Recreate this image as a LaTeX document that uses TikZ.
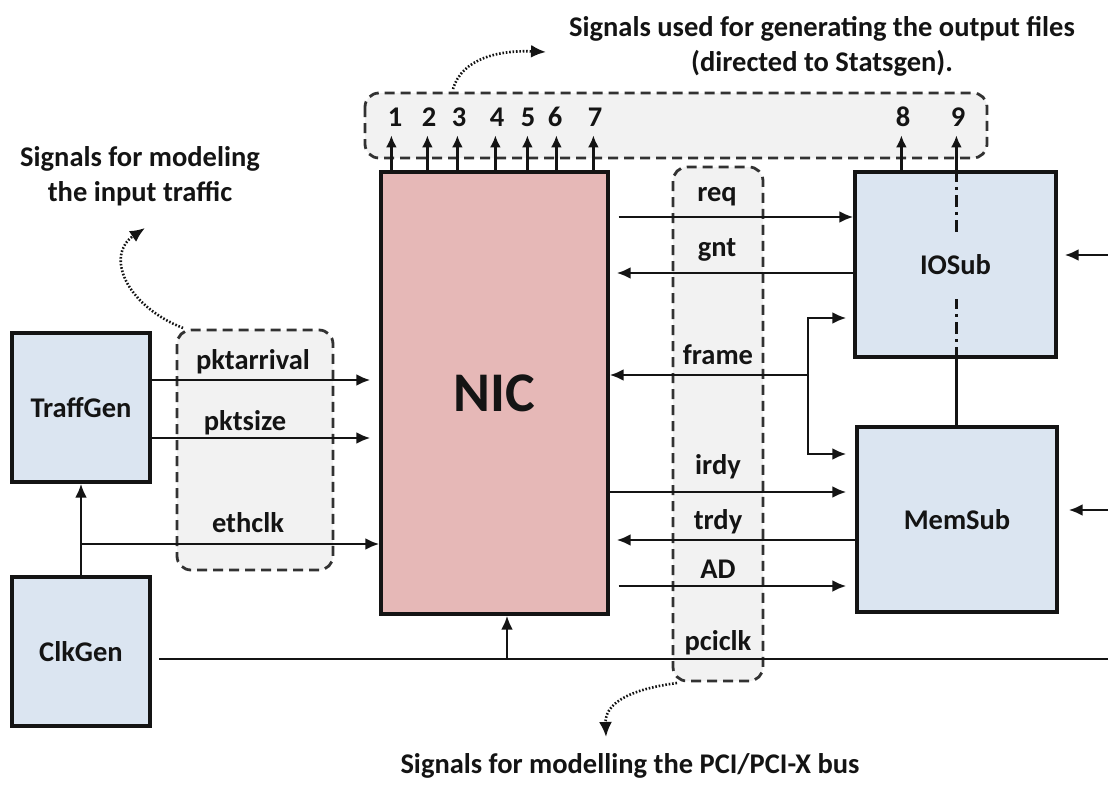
\documentclass[tikz,border=0pt]{standalone}
\usepackage{fontspec}
\setmainfont{Carlito}
\usetikzlibrary{arrows.meta,calc}
\definecolor{nicfill}{RGB}{230,184,183}
\definecolor{boxfill}{RGB}{219,229,241}
\definecolor{grpfill}{RGB}{242,242,242}
\definecolor{grpline}{RGB}{50,50,50}
\definecolor{ink}{RGB}{20,20,20}
\begin{document}
\begin{tikzpicture}[x=1pt,y=-1pt,
  every node/.style={font=\fontsize{28.5}{35}\selectfont\bfseries, text=ink},
  blk/.style={draw=ink, line width=3.2pt, fill=boxfill, inner sep=0pt},
  grp/.style={draw=grpline, fill=grpfill, line width=2.8pt, dash pattern=on 10pt off 6pt, rounded corners=14pt},
  sig/.style={draw=ink, line width=2.8pt, -{Latex[length=14pt,width=12pt]}},
  plain/.style={draw=ink, line width=2.8pt},
  note/.style={draw=ink, line width=2.6pt, dash pattern=on 1.6pt off 1.8pt, -{Latex[length=15pt,width=13pt]}},
  dashdot/.style={draw=ink, line width=2.8pt, dash pattern=on 12pt off 5pt on 3pt off 5pt}
]
\useasboundingbox (0,0) rectangle (1108,785);

% signal groups
\draw[grp] (365,93) rectangle (987,158);
\draw[grp] (177,330) rectangle (333,570);
\draw[grp] (673,167) rectangle (763,681);

% blocks
\node[blk, minimum width=138pt, minimum height=149pt] (tg) at (81,407.5) {TraffGen};
\node[blk, minimum width=138pt, minimum height=149pt] (cg) at (81,651.5) {ClkGen};
\node[blk, fill=nicfill, minimum width=227pt, minimum height=442pt, font=\fontsize{56}{60}\selectfont\bfseries] (nic) at (494.5,393) {NIC};
\node[blk, minimum width=201pt, minimum height=185pt] (io) at (955.5,264.5) {IOSub};
\node[blk, minimum width=200pt, minimum height=185pt] (mem) at (957,519.5) {MemSub};

% row coordinates
\coordinate (yPA) at (0,380);
\coordinate (yPS) at (0,438);
\coordinate (yEC) at (0,544);
\coordinate (yREQ) at (0,217);
\coordinate (yGNT) at (0,273);
\coordinate (yFR) at (0,375);
\coordinate (yIO) at (0,318);
\coordinate (yMEM) at (0,454);
\coordinate (yIR) at (0,492);
\coordinate (yTR) at (0,540);
\coordinate (yAD) at (0,586);
\coordinate (yR1) at (0,255);
\coordinate (yR2) at (0,510);

\coordinate (nicIn) at ([xshift=-9pt]nic.west);
\coordinate (nicOut) at ([xshift=9pt]nic.east);
\coordinate (nicTip) at ([xshift=7pt]nic.east);
\coordinate (ioIn) at ([xshift=-7pt]io.west);
\coordinate (memIn) at ([xshift=-9pt]mem.west);
\coordinate (ioR) at ([xshift=7pt]io.east);
\coordinate (memR) at ([xshift=10pt]mem.east);
\coordinate (rEdge) at (1108,0);

% left side signals
\draw[sig] (tg.east |- yPA) -- (nicIn |- yPA);
\draw[sig] (tg.east |- yPS) -- (nicIn |- yPS);
\draw[sig] (cg.north) -- (tg.south);
\coordinate (cj) at (81,544);
\draw[sig] (cj) -- (nic.west |- yEC);

% pciclk
\coordinate (pcs) at (159,659);
\coordinate (pce) at (1108,659);
\draw[plain] (pcs) -- (pce);
\coordinate (pcj) at (507,659);
\draw[sig] (pcj) -- (pcj |- nic.south);

% PCI bus signals
\draw[sig] (nicOut |- yREQ) -- (io.west |- yREQ);
\draw[sig] (io.west |- yGNT) -- (nicTip |- yGNT);
\coordinate (fj) at (808,375);
\draw[sig] (fj) -- (nic.east |- yFR);
\draw[draw=ink, line width=2.8pt, {Latex[length=14pt,width=12pt]}-{Latex[length=14pt,width=12pt]}]
  (ioIn |- yIO) -| (fj |- yMEM) -- (memIn |- yMEM);
\draw[sig] (nic.east |- yIR) -- (memIn |- yIR);
\draw[sig] (mem.west |- yTR) -- (nicTip |- yTR);
\draw[sig] (nicOut |- yAD) -- (memIn |- yAD);

% inputs from the right
\draw[sig] (rEdge |- yR1) -- (ioR |- yR1);
\draw[sig] (rEdge |- yR2) -- (memR |- yR2);

% output signals 1..7
\foreach \i/\dx in {1/12,2/48,3/78,4/116,5/148,6/177,7/214}{
  \draw[sig, -{Latex[length=12pt,width=11pt]}] ($(nic.north west)+(\dx,0)$) -- ++(0,-35);
}
\foreach \i/\x in {1/395,2/429,3/459,4/497,5/528,6/555,7/595}{
  \node (n\i) at (\x,117) {\i};
}
% outputs 8, 9
\coordinate (c8) at ($(io.north west)+(48,0)$);
\coordinate (c9) at ($(io.north west)+(103,0)$);
\draw[sig, -{Latex[length=12pt,width=11pt]}] (c8) -- ++(0,-35);
\draw[sig, -{Latex[length=12pt,width=11pt]}] (c9) -- ++(0,-35);
\draw[dashdot] (c9) -- ++(0,62);
\draw[dashdot] (c9 |- io.south) -- ++(0,-60);
\draw[plain] (c9 |- io.south) -- (c9 |- mem.north);
\node (n8) at (903,117) {8};
\node (n9) at (958,117) {9};

% signal labels
\node (lpa) at (253,362) {pktarrival};
\node (lps) at (245,423) {pktsize};
\node (lec) at (248,523) {ethclk};
\node (lreq) at (717,197) {req};
\node (lgnt) at (717,250) {gnt};
\node (lfr) at (718,355) {frame};
\node (lir) at (718,467) {irdy};
\node (ltr) at (718,522) {trdy};
\node (lad) at (718,569) {AD};
\node (lpc) at (718,643) {pciclk};

% notes
\node[align=center] (t1) at (822,46) {Signals used for generating the output files\\(directed to Statsgen).};
\node[align=center] (t2) at (140,176) {Signals for modeling\\the input traffic};
\node (t3) at (630,766) {Signals for modelling the PCI/PCI-X bus};

\coordinate (a1) at (453,89);
\coordinate (a2) at (183,328);
\coordinate (a3) at (677,683);
\draw[note] (a1) .. controls (462,58) and (500,50) .. (546,52);
\draw[note] (a2) .. controls (125,305) and (105,255) .. (145,228);
\draw[note] (a3) .. controls (625,690) and (605,705) .. (606,737);
\end{tikzpicture}
\end{document}
